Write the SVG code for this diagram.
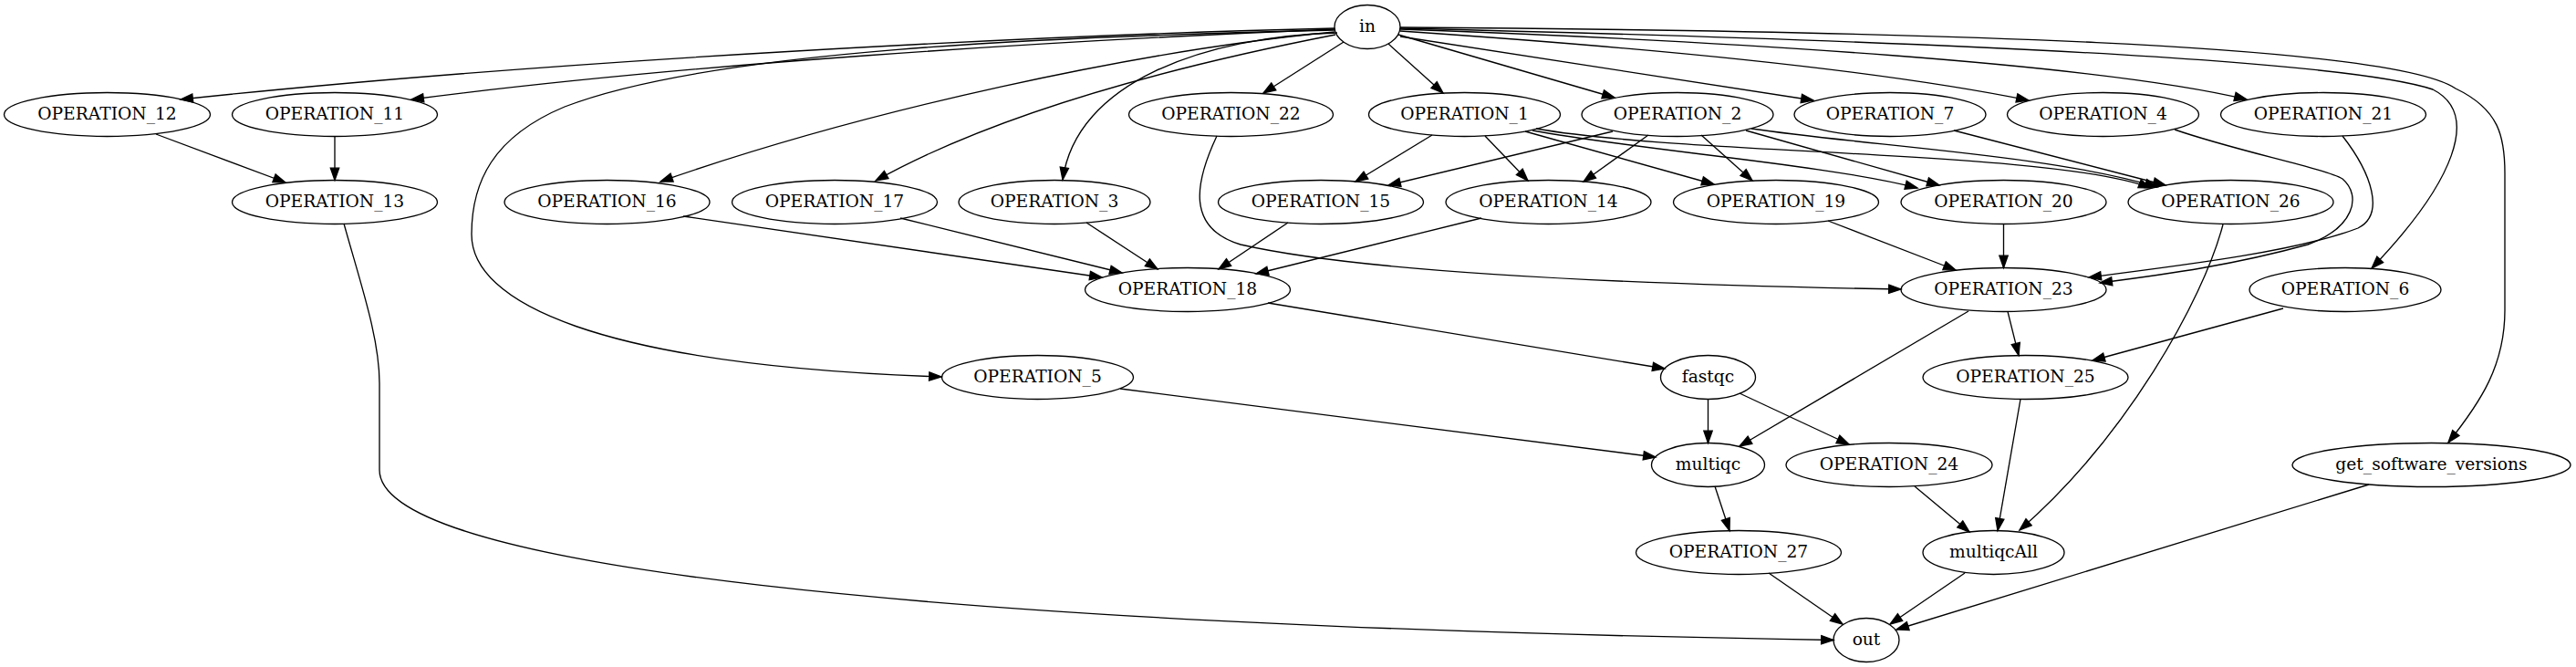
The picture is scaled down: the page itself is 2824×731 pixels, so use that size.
<svg xmlns="http://www.w3.org/2000/svg" width="2824" height="731" viewBox="0 0 2824 731">
<style>
.n ellipse{fill:none;stroke:#000;stroke-width:1.33}
.n text{font-family:"DejaVu Serif","Liberation Serif",serif;font-size:18.67px;text-anchor:middle;fill:#000}
#edges path{fill:none;stroke:#000;stroke-width:1.33;marker-end:url(#ah)}
</style>
<defs>
<marker id="ah" markerUnits="userSpaceOnUse" markerWidth="14" markerHeight="10" refX="13.33" refY="4.67" orient="auto" overflow="visible">
<path d="M0,0 L13.33,4.67 L0,9.33 z" fill="#000" stroke="#000" stroke-width="1.33"/>
</marker>
</defs>
<rect width="2824" height="731" fill="#fff"/>
<g id="edges">
<path d="M1463,31 C1150,38 600,66 198,109"/>
<path d="M1463,32 C1150,45 750,70 451,109"/>
<path d="M1463,35 C1250,55 950,120 724,199"/>
<path d="M1464,38 C1300,70 1100,120 960,198"/>
<path d="M1466,36 C1320,40 1180,90 1165,197"/>
<path d="M1473,46 L1385,102"/>
<path d="M1522,48 L1582,102"/>
<path d="M1533,38 L1770,107"/>
<path d="M1535,40 L1988,110"/>
<path d="M1535,34 C1800,52 2050,75 2224,110"/>
<path d="M1535,32 C1900,45 2300,70 2463,109"/>
<path d="M1535,31 C2000,42 2560,62 2667,98 C2720,125 2690,200 2600,294"/>
<path d="M1535,30 C2100,34 2620,48 2692,97 C2740,120 2746,150 2746,190 L2746,340 C2746,400 2720,440 2684,485"/>
<path d="M1463,33 C1150,40 780,55 619,117 C540,150 517,200 517,257 C517,330 650,400 1032,413"/>
<path d="M171,147 L313,200"/>
<path d="M367,149.5 L367,197.5"/>
<path d="M377,245 C395,310 416,370 416,420 L416,515 C416,620 1000,685 2010,701.5"/>
<path d="M749,237 L1208,304"/>
<path d="M987,239 L1230,299"/>
<path d="M1191,244 L1269,295"/>
<path d="M1412,244 L1336,295"/>
<path d="M1624,239 L1377,300"/>
<path d="M1334,149 C1310,200 1300,250 1360,268 C1500,300 1800,312 2084,317"/>
<path d="M1570,148 L1486,199"/>
<path d="M1768,144 L1522,203"/>
<path d="M1628,149 L1675,198"/>
<path d="M1807,148 L1736,199"/>
<path d="M1672,144 L1879,202"/>
<path d="M1865,148 L1921,198"/>
<path d="M1680,143 C1800,165 2000,180 2102,206"/>
<path d="M1684,141 C1850,170 2250,165 2358,206"/>
<path d="M1914,143 L2126,203"/>
<path d="M1920,141 C2050,160 2250,170 2365,205"/>
<path d="M2142,143 L2374,203"/>
<path d="M2004,242 L2144,296"/>
<path d="M2196.5,245.5 L2196.5,293.5"/>
<path d="M2384,142 C2450,165 2550,185 2568,196 C2590,215 2580,250 2530,268 C2450,290 2380,300 2302,310"/>
<path d="M2568,149 C2600,190 2615,235 2585,250 C2520,275 2400,290 2290,304"/>
<path d="M2158,341 L1907,489"/>
<path d="M2201,341.5 L2213,389.5"/>
<path d="M2503,338 L2294,395"/>
<path d="M2437,246 C2415,330 2330,480 2214,581"/>
<path d="M1390,332 L1825,404"/>
<path d="M1228,426 L1815,501"/>
<path d="M1872.5,437.5 L1872.5,485.5"/>
<path d="M1907,431 L2027,487"/>
<path d="M2215,437.5 L2190,581.5"/>
<path d="M2099,533 L2159,583"/>
<path d="M1880,533 L1896,581.5"/>
<path d="M1939,628 L2020,684"/>
<path d="M2154,628 L2072,684"/>
<path d="M2597,531 L2079,690"/>
</g>
<g id="in" class="n"><ellipse cx="1499" cy="29.5" rx="36" ry="24"/><text x="1499" y="35">in</text></g>
<g id="OPERATION_12" class="n"><ellipse cx="117.5" cy="125.5" rx="113" ry="24"/><text x="117.5" y="131">OPERATION_12</text></g>
<g id="OPERATION_11" class="n"><ellipse cx="367" cy="125.5" rx="112.5" ry="24"/><text x="367" y="131">OPERATION_11</text></g>
<g id="OPERATION_22" class="n"><ellipse cx="1349.5" cy="125.5" rx="112" ry="24"/><text x="1349.5" y="131">OPERATION_22</text></g>
<g id="OPERATION_1" class="n"><ellipse cx="1605.5" cy="125.5" rx="105" ry="24"/><text x="1605.5" y="131">OPERATION_1</text></g>
<g id="OPERATION_2" class="n"><ellipse cx="1839" cy="125.5" rx="105" ry="24"/><text x="1839" y="131">OPERATION_2</text></g>
<g id="OPERATION_7" class="n"><ellipse cx="2072" cy="125.5" rx="105" ry="24"/><text x="2072" y="131">OPERATION_7</text></g>
<g id="OPERATION_4" class="n"><ellipse cx="2305.5" cy="125.5" rx="105" ry="24"/><text x="2305.5" y="131">OPERATION_4</text></g>
<g id="OPERATION_21" class="n"><ellipse cx="2547" cy="125.5" rx="112.5" ry="24"/><text x="2547" y="131">OPERATION_21</text></g>
<g id="OPERATION_13" class="n"><ellipse cx="367" cy="221.5" rx="112.5" ry="24"/><text x="367" y="227">OPERATION_13</text></g>
<g id="OPERATION_16" class="n"><ellipse cx="665.5" cy="221.5" rx="112.5" ry="24"/><text x="665.5" y="227">OPERATION_16</text></g>
<g id="OPERATION_17" class="n"><ellipse cx="915" cy="221.5" rx="112.5" ry="24"/><text x="915" y="227">OPERATION_17</text></g>
<g id="OPERATION_3" class="n"><ellipse cx="1156" cy="221.5" rx="105" ry="24"/><text x="1156" y="227">OPERATION_3</text></g>
<g id="OPERATION_15" class="n"><ellipse cx="1448" cy="221.5" rx="112.5" ry="24"/><text x="1448" y="227">OPERATION_15</text></g>
<g id="OPERATION_14" class="n"><ellipse cx="1697.5" cy="221.5" rx="112.5" ry="24"/><text x="1697.5" y="227">OPERATION_14</text></g>
<g id="OPERATION_19" class="n"><ellipse cx="1947" cy="221.5" rx="112.5" ry="24"/><text x="1947" y="227">OPERATION_19</text></g>
<g id="OPERATION_20" class="n"><ellipse cx="2196.5" cy="221.5" rx="112.5" ry="24"/><text x="2196.5" y="227">OPERATION_20</text></g>
<g id="OPERATION_26" class="n"><ellipse cx="2445.5" cy="221.5" rx="112.5" ry="24"/><text x="2445.5" y="227">OPERATION_26</text></g>
<g id="OPERATION_18" class="n"><ellipse cx="1302" cy="317.5" rx="112.5" ry="24"/><text x="1302" y="323">OPERATION_18</text></g>
<g id="OPERATION_23" class="n"><ellipse cx="2196.5" cy="317.5" rx="112.5" ry="24"/><text x="2196.5" y="323">OPERATION_23</text></g>
<g id="OPERATION_6" class="n"><ellipse cx="2571" cy="317.5" rx="105" ry="24"/><text x="2571" y="323">OPERATION_6</text></g>
<g id="OPERATION_5" class="n"><ellipse cx="1137.5" cy="413.5" rx="105" ry="24"/><text x="1137.5" y="419">OPERATION_5</text></g>
<g id="fastqc" class="n"><ellipse cx="1872.5" cy="413.5" rx="52" ry="24"/><text x="1872.5" y="419">fastqc</text></g>
<g id="OPERATION_25" class="n"><ellipse cx="2220.5" cy="413.5" rx="112.5" ry="24"/><text x="2220.5" y="419">OPERATION_25</text></g>
<g id="multiqc" class="n"><ellipse cx="1872.5" cy="509.5" rx="62" ry="24"/><text x="1872.5" y="515">multiqc</text></g>
<g id="OPERATION_24" class="n"><ellipse cx="2071" cy="509.5" rx="113" ry="24"/><text x="2071" y="515">OPERATION_24</text></g>
<g id="get_software_versions" class="n"><ellipse cx="2665.5" cy="509.5" rx="152.5" ry="24"/><text x="2665.5" y="515">get_software_versions</text></g>
<g id="OPERATION_27" class="n"><ellipse cx="1906" cy="605.5" rx="112.5" ry="24"/><text x="1906" y="611">OPERATION_27</text></g>
<g id="multiqcAll" class="n"><ellipse cx="2185.5" cy="605.5" rx="77.5" ry="24"/><text x="2185.5" y="611">multiqcAll</text></g>
<g id="out" class="n"><ellipse cx="2046" cy="701.5" rx="36" ry="24"/><text x="2046" y="707">out</text></g>
</svg>
